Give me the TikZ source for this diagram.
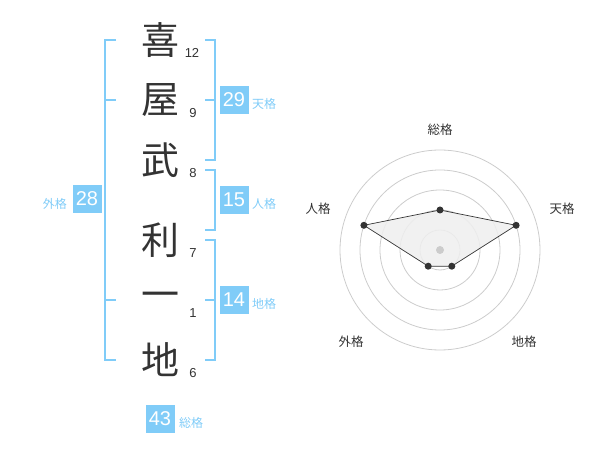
\documentclass[tikz,border=0pt]{standalone}
\usepackage{fontspec}
\setmainfont{Liberation Sans}
\newfontfamily\jp{Noto Sans CJK JP}
\definecolor{kblue}{HTML}{80CCF8}
\definecolor{kdark}{HTML}{333333}
\definecolor{kgrid}{HTML}{CCCCCC}
\definecolor{kfill}{HTML}{EFEFEF}
\begin{document}
\begin{tikzpicture}[x=1pt,y=-1pt,
  kanji/.style={font=\jp\fontsize{38}{38}\selectfont, text=kdark, inner sep=0pt},
  stroke/.style={font=\fontsize{13}{13}\selectfont, text=kdark, inner sep=0pt},
  valbox/.style={fill=kblue, text=white, minimum width=29pt, minimum height=28pt, inner sep=0pt, font=\fontsize{20}{20}\selectfont},
  vallabel/.style={text=kblue, font=\jp\fontsize{12}{12}\selectfont, inner sep=0pt},
  bracket/.style={draw=kblue, line width=2pt},
  grid/.style={draw=kgrid, line width=0.8pt},
  axislabel/.style={text=kdark, font=\jp\fontsize{12.5}{12.5}\selectfont, inner sep=0pt},
  dot/.style={circle, fill=kdark, minimum size=7pt, inner sep=0pt},
]
\useasboundingbox (0,0) rectangle (600,470);
% kanji
\node[kanji] (k1) at (160,40) {喜};
\node[kanji] (k2) at (160,100) {屋};
\node[kanji] (k3) at (160,160) {武};
\node[kanji] (k4) at (160,240) {利};
\node[kanji] (k5) at (160,300) {一};
\node[kanji] (k6) at (160,360) {地};
% stroke counts
\node[stroke] (s1) at (192,53) {12};
\node[stroke] (s2) at (193,113) {9};
\node[stroke] (s3) at (193,173) {8};
\node[stroke] (s4) at (193,253) {7};
\node[stroke] (s5) at (193,313) {1};
\node[stroke] (s6) at (193,373) {6};
% left bracket (gaikaku)
\coordinate (L1) at (105,40);
\coordinate (L2) at (105,360);
\draw[bracket] (116,40) -- (L1) -- (L2) -- (116,360);
\draw[bracket] (105,100) -- (116,100);
\draw[bracket] (105,300) -- (116,300);
% right brackets
\draw[bracket] (205,40) -- (215,40) -- (215,160) -- (205,160);
\draw[bracket] (205,100) -- (215,100);
\draw[bracket] (205,170) -- (215,170) -- (215,230) -- (205,230);
\draw[bracket] (205,240) -- (215,240) -- (215,360) -- (205,360);
\draw[bracket] (205,300) -- (215,300);
% value boxes
\node[valbox] (gai) at (87,199) {28};
\node[vallabel, anchor=east] (gail) at (67,204) {外格};
\node[valbox] (ten) at (234,100) {29};
\node[vallabel, anchor=west] (tenl) at (252,104) {天格};
\node[valbox] (jin) at (234,200) {15};
\node[vallabel, anchor=west] (jinl) at (252,204) {人格};
\node[valbox] (chi) at (234,300) {14};
\node[vallabel, anchor=west] (chil) at (252,304) {地格};
\node[valbox] (sou) at (160,419) {43};
\node[vallabel, anchor=west] (soul) at (179,423) {総格};
% radar chart
\coordinate (C) at (440,250);
\foreach \r in {20,40,60,80,100} \draw[grid] (C) circle[radius=\r];
\coordinate (pS) at (440,210);
\coordinate (pT) at (516.1,225.3);
\coordinate (pC) at (451.8,266.2);
\coordinate (pG) at (428.2,266.2);
\coordinate (pJ) at (363.9,225.3);
\fill[kfill, opacity=0.85] (pS) -- (pT) -- (pC) -- (pG) -- (pJ) -- cycle;
\draw[kdark, line width=0.7pt] (pS) -- (pT) -- (pC) -- (pG) -- (pJ) -- cycle;
\fill[kgrid] (C) circle[radius=4];
\node[dot] (dS) at (pS) {};
\node[dot] (dT) at (pT) {};
\node[dot] (dC) at (pC) {};
\node[dot] (dG) at (pG) {};
\node[dot] (dJ) at (pJ) {};
\node[axislabel] (aS) at (440,130) {総格};
\node[axislabel] (aT) at (562,209) {天格};
\node[axislabel] (aJ) at (318,209) {人格};
\node[axislabel] (aG) at (351,342) {外格};
\node[axislabel] (aC) at (524,342) {地格};
\end{tikzpicture}
\end{document}
